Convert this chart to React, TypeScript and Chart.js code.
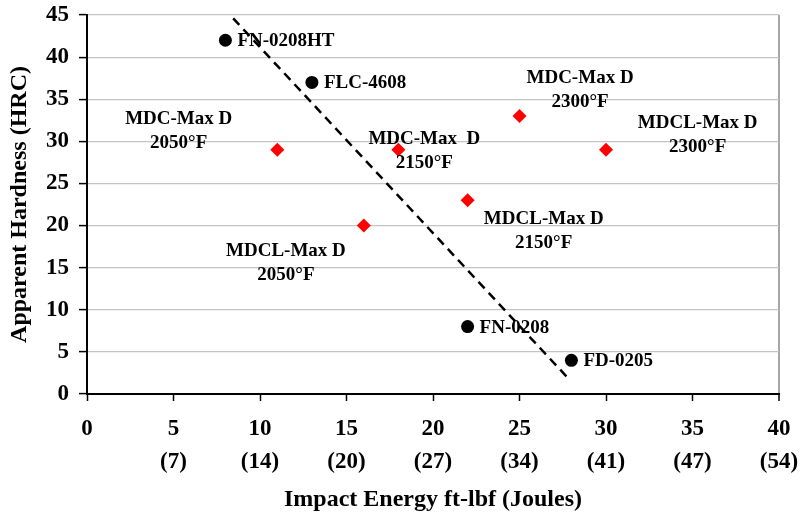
import React, { useEffect, useRef } from 'react';
import { Chart, registerables } from 'chart.js';

Chart.register(...registerables);

// ---- data ----
const joulesTicks = ['', '(7)', '(14)', '(20)', '(27)', '(34)', '(41)', '(47)', '(54)'];

const blackNames = ['FN-0208HT', 'FLC-4608', 'FN-0208', 'FD-0205'];
const blackX = [8, 13, 22, 28];
const blackY = [42, 37, 8, 4];

const redNames = [
  ['MDC-Max D', '2050°F'],
  ['MDCL-Max D', '2050°F'],
  ['MDC-Max  D', '2150°F'],
  ['MDCL-Max D', '2150°F'],
  ['MDC-Max D', '2300°F'],
  ['MDCL-Max D', '2300°F'],
];
const redX = [11, 16, 18, 22, 25, 30];
const redY = [29, 20, 29, 23, 33, 29];

// annotation anchor (data units) for the red-point labels
const redLabelX = [5.3, 11.5, 19.5, 26.4, 28.5, 35.3];
const redLabelY = [31.2, 15.6, 28.8, 19.4, 36.1, 30.7];

const trendX = [8.45, 27.8];
const trendY = [44.6, 1.9];

const FONT = "'Liberation Serif', 'Times New Roman', serif";

const labelPlugin = {
  id: 'pointLabels',
  afterDatasetsDraw(chart: any) {
    const { ctx, scales } = chart;
    const xs = scales.x;
    const ys = scales.y;
    ctx.save();
    ctx.fillStyle = '#000';
    ctx.font = `bold 19px ${FONT}`;
    ctx.textBaseline = 'middle';
    ctx.textAlign = 'left';
    blackNames.forEach((n, i) => {
      ctx.fillText(n, xs.getPixelForValue(blackX[i]) + 12, ys.getPixelForValue(blackY[i]) + 1);
    });
    ctx.textAlign = 'center';
    redNames.forEach((lines, i) => {
      const cx = xs.getPixelForValue(redLabelX[i]);
      const cy = ys.getPixelForValue(redLabelY[i]);
      const lh = 24;
      lines.forEach((t, j) => {
        ctx.fillText(t, cx, cy + (j - (lines.length - 1) / 2) * lh);
      });
    });
    ctx.restore();
  },
};

export default function App() {
  const ref = useRef<HTMLCanvasElement | null>(null);
  useEffect(() => {
    if (!ref.current) return;
    const chart = new Chart(ref.current, {
      type: 'scatter',
      data: {
        datasets: [
          {
            type: 'line',
            label: 'trend',
            data: trendX.map((x, i) => ({ x, y: trendY[i] })),
            showLine: true,
            borderColor: '#000',
            borderWidth: 2.5,
            borderDash: [9, 6],
            pointRadius: 0,
            fill: false,
          } as any,
          {
            label: 'black',
            data: blackX.map((x, i) => ({ x, y: blackY[i] })),
            pointStyle: 'circle',
            pointRadius: 6.5,
            backgroundColor: '#000',
            borderColor: '#000',
            borderWidth: 0,
          },
          {
            label: 'red',
            data: redX.map((x, i) => ({ x, y: redY[i] })),
            pointStyle: 'rectRot',
            pointRadius: 7,
            backgroundColor: '#ff0000',
            borderColor: '#ff0000',
            borderWidth: 0,
          },
        ],
      },
      options: {
        animation: false,
        responsive: false,
        layout: { padding: { top: 15, right: 22, left: 0, bottom: 0 } },
        plugins: { legend: { display: false }, tooltip: { enabled: false } },
        scales: {
          x: {
            type: 'linear',
            min: 0,
            max: 40,
            ticks: {
              stepSize: 5,
              padding: 11.5,
              color: '#000',
              font: { family: FONT, size: 23, weight: 'bold', lineHeight: 1.435 },
              maxRotation: 0,
              callback: (v: any) => {
                const i = Math.round(Number(v) / 5);
                return i === 0 ? String(v) : [String(v), joulesTicks[i]];
              },
            },
            grid: {
              color: (c: any) => (c.tick && c.tick.value === 40 ? '#a6a6a6' : 'rgba(0,0,0,0)'),
              lineWidth: (c: any) => (c.tick && c.tick.value === 40 ? 2 : 1),
              tickColor: '#000',
              tickLength: 7,
              tickWidth: 1.5,
            },
            border: { display: true, color: '#000', width: 2 },
            title: {
              display: true,
              text: 'Impact Energy ft-lbf (Joules)',
              color: '#000',
              font: { family: FONT, size: 24, weight: 'bold' },
              padding: { top: 0, bottom: 8.8 },
            },
            afterFit: (s: any) => {
              s.height = 129;
              s.paddingLeft = 0;
              s.paddingRight = 0;
            },
          },
          y: {
            type: 'linear',
            min: 0,
            max: 45,
            ticks: {
              stepSize: 5,
              padding: 10,
              color: '#000',
              font: { family: FONT, size: 23, weight: 'bold' },
            },
            grid: {
              color: '#c4c4c4',
              lineWidth: 1.2,
              tickColor: '#000',
              tickLength: 8,
              tickWidth: 1.5,
            },
            border: { display: true, color: '#000', width: 2 },
            title: {
              display: true,
              text: 'Apparent Hardness (HRC)',
              color: '#000',
              font: { family: FONT, size: 24, weight: 'bold' },
              padding: { top: 5, bottom: 0 },
            },
            afterFit: (s: any) => {
              s.width = 87;
              s.paddingTop = 0;
              s.paddingBottom = 0;
            },
          },
        },
      } as any,
      plugins: [labelPlugin],
    });
    return () => chart.destroy();
  }, []);
  return (
    <div style={{ position: 'absolute', left: 0, top: 0, width: 801, height: 523, background: '#fff' }}>
      <canvas ref={ref} width={801} height={523} style={{ display: 'block' }} />
    </div>
  );
}
